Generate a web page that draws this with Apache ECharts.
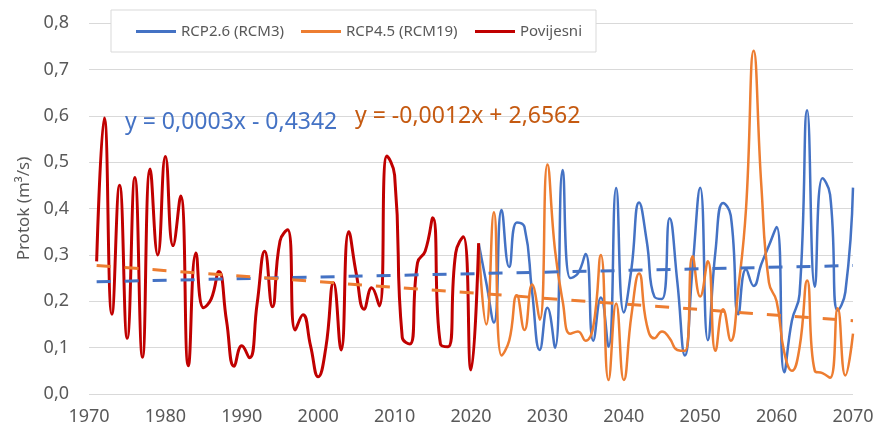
<!DOCTYPE html>
<html>
<head>
<meta charset="utf-8">
<script src="https://cdn.jsdelivr.net/npm/echarts@6/dist/echarts.min.js"></script>
<style>
html,body{margin:0;padding:0;background:#fff;}
#chart{width:877px;height:429px;}
</style>
</head>
<body>
<div id="chart"></div>
<script>
// ---- Data ----
const seriesNames = ['RCP2.6 (RCM3)', 'RCP4.5 (RCM19)', 'Povijesni'];

const histYears = [1971,1972,1973,1974,1975,1976,1977,1978,1979,1980,
  1981,1982,1983,1984,1985,1986,1987,1988,1989,1990,
  1991,1992,1993,1994,1995,1996,1997,1998,1999,2000,
  2001,2002,2003,2004,2005,2006,2007,2008,2009,2010,
  2011,2012,2013,2014,2015,2016,2017,2018,2019,2020,2021];
const histValues = [0.286,0.595,0.172,0.45,0.12,0.467,0.079,0.485,0.30,0.512,
  0.32,0.427,0.061,0.304,0.186,0.205,0.264,0.158,0.06,0.104,
  0.078,0.194,0.308,0.188,0.33,0.354,0.138,0.171,0.104,0.037,
  0.10,0.24,0.095,0.35,0.258,0.183,0.229,0.19,0.513,0.472,
  0.122,0.108,0.283,0.308,0.38,0.108,0.102,0.304,0.339,0.052,0.325];

const projYears = [2021,2022,2023,2024,2025,2026,2027,2028,2029,2030,
  2031,2032,2033,2034,2035,2036,2037,2038,2039,2040,
  2041,2042,2043,2044,2045,2046,2047,2048,2049,2050,
  2051,2052,2053,2054,2055,2056,2057,2058,2059,2060,
  2061,2062,2063,2064,2065,2066,2067,2068,2069,2070];
const rcp26Values = [0.325,0.24,0.154,0.397,0.274,0.37,0.36,0.22,0.095,0.186,
  0.10,0.483,0.25,0.26,0.302,0.115,0.208,0.102,0.444,0.176,
  0.27,0.413,0.33,0.21,0.205,0.379,0.243,0.083,0.272,0.445,
  0.116,0.308,0.412,0.385,0.172,0.269,0.233,0.28,0.32,0.36,
  0.047,0.158,0.215,0.612,0.231,0.465,0.43,0.18,0.22,0.445];
const rcp45Values = [0.325,0.15,0.392,0.083,0.115,0.213,0.138,0.236,0.16,0.495,
  0.31,0.2,0.13,0.135,0.115,0.145,0.30,0.03,0.195,0.03,
  0.17,0.26,0.15,0.12,0.135,0.12,0.095,0.093,0.297,0.21,
  0.286,0.093,0.183,0.115,0.23,0.40,0.74,0.45,0.24,0.2,
  0.09,0.05,0.1,0.245,0.05,0.045,0.035,0.185,0.04,0.13];

// trend lines (end points)
const trendYears = [1971, 2070];
const trend26Values = [0.242, 0.277];
const trend45Values = [0.277, 0.158];
const trend26Label = 'y = 0,0003x - 0,4342';
const trend45Label = 'y = -0,0012x + 2,6562';

const xTicks = {min: 1970, max: 2070, interval: 10};
const yTicks = {min: 0, max: 0.8, interval: 0.1};

// ---- Chart ----
const FONT = '"Noto Sans", "Open Sans", sans-serif';
const C_BLUE = '#4472C4', C_ORANGE = '#ED7D31', C_RED = '#C00000';
const zip = (xs, ys) => xs.map((x, i) => [x, ys[i]]);

const chart = echarts.init(document.getElementById('chart'), null, {renderer: 'canvas'});
const legendLefts = [136, 301, 475];

chart.setOption({
  animation: false,
  backgroundColor: '#fff',
  textStyle: {fontFamily: FONT},
  grid: {left: 89, right: 24, top: 23, bottom: 35, containLabel: false},
  xAxis: {
    type: 'value', min: xTicks.min, max: xTicks.max, interval: xTicks.interval,
    axisLine: {show: false}, axisTick: {show: false}, splitLine: {show: false},
    axisLabel: {fontSize: 18, color: '#595959', margin: 14, fontFamily: FONT,
      formatter: v => String(v)}
  },
  yAxis: {
    type: 'value', min: yTicks.min, max: yTicks.max, interval: yTicks.interval,
    name: 'Protok (m³/s)', nameLocation: 'middle', nameGap: 56,
    nameTextStyle: {fontSize: 17, color: '#595959', fontFamily: FONT},
    axisLine: {show: false}, axisTick: {show: false},
    splitLine: {show: true, lineStyle: {color: '#D9D9D9', width: 1}},
    axisLabel: {fontSize: 18, color: '#595959', margin: 20, fontFamily: FONT,
      formatter: v => v.toFixed(1).replace('.', ',')}
  },
  legend: seriesNames.map((n, i) => ({
    data: [n], left: legendLefts[i], top: 24, padding: 0,
    icon: 'rect', itemWidth: 40, itemHeight: 3, selectedMode: false, z: 6,
    textStyle: {fontSize: 15, color: '#595959', fontFamily: FONT}
  })),
  graphic: [
    {type: 'rect', z: 5, shape: {x: 111, y: 10, width: 485, height: 42},
      style: {fill: '#fff', stroke: '#D9D9D9', lineWidth: 1}},
    {type: 'text', z: 5, left: 125, top: 111,
      style: {text: trend26Label, fill: C_BLUE, font: '23px "Noto Sans"'}},
    {type: 'text', z: 5, left: 355, top: 105,
      style: {text: trend45Label, fill: '#C55A11', font: '23px "Noto Sans"'}}
  ],
  series: [
    {name: seriesNames[0], type: 'line', data: zip(projYears, rcp26Values),
      smooth: 0.5, symbol: 'none', lineStyle: {color: C_BLUE, width: 2.5},
      itemStyle: {color: C_BLUE}, z: 2},
    {name: seriesNames[1], type: 'line', data: zip(projYears, rcp45Values),
      smooth: 0.5, symbol: 'none', lineStyle: {color: C_ORANGE, width: 2.5},
      itemStyle: {color: C_ORANGE}, z: 2},
    {name: seriesNames[2], type: 'line', data: zip(histYears, histValues),
      smooth: 0.5, symbol: 'none', lineStyle: {color: C_RED, width: 3},
      itemStyle: {color: C_RED}, z: 3},
    {name: 'trend26', type: 'line', data: zip(trendYears, trend26Values),
      symbol: 'none', silent: true, z: 4,
      lineStyle: {color: C_BLUE, width: 3, type: [14, 14]}},
    {name: 'trend45', type: 'line', data: zip(trendYears, trend45Values),
      symbol: 'none', silent: true, z: 4,
      lineStyle: {color: C_ORANGE, width: 3, type: [14, 14]}}
  ]
});
</script>
</body>
</html>
